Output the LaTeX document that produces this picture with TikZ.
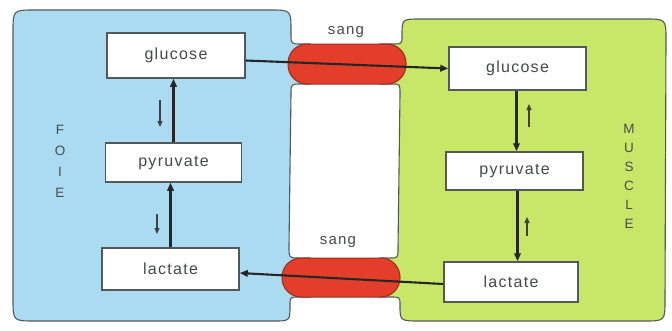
\documentclass[tikz,border=0pt]{standalone}
\usepackage{fontspec}
\setmainfont{Liberation Sans}
\newfontfamily\labelfont[LetterSpace=8]{Liberation Sans}
\usetikzlibrary{arrows.meta,calc}

\definecolor{liverblue}{RGB}{170,219,241}
\definecolor{musclegreen}{RGB}{200,230,104}
\definecolor{bloodred}{RGB}{226,62,42}
\definecolor{bloodedge}{RGB}{150,45,35}
\definecolor{outline}{RGB}{85,88,90}
\definecolor{inktext}{RGB}{70,72,74}

\tikzset{
  organ/.style={draw=outline, line width=1.1pt},
  metabox/.style={draw=outline, fill=white, line width=1.5pt, inner sep=0pt,
    font=\labelfont\fontsize{16}{19}\selectfont, text=inktext},
  vessel/.style={draw=bloodedge, fill=bloodred, line width=1pt, rounded corners=19pt, inner sep=0pt},
  flow/.style={draw=black!85, line width=2.1pt, -{Triangle[length=8pt,width=6.5pt]}},
  hint/.style={draw=black!75, line width=1.2pt, -{Triangle[length=6pt,width=5pt]}},
  organname/.style={font=\fontsize{13.5}{14}\selectfont, text=black!70},
  bloodlabel/.style={font=\labelfont\fontsize{15}{18}\selectfont, text=inktext}
}

\begin{document}
\begin{tikzpicture}[x=1pt,y=-1pt]
\useasboundingbox (0,0) rectangle (672,330);

% liver compartment
\path[organ, fill=liverblue]
  (13,32) .. controls (13,10) .. (35,10) -- (270,10)
  .. controls (291,10) .. (291,31) -- (291,34)
  .. controls (291,44) .. (301,44) -- (310,44) -- (310,84) -- (301,84)
  .. controls (291,84) .. (291,94) -- (289,246)
  .. controls (289,258) .. (299,258) -- (310,258) -- (310,297) -- (299,297)
  .. controls (290,297) .. (290,305) .. controls (290,321) .. (274,321)
  -- (35,321) .. controls (13,321) .. (13,299) -- cycle;

% muscle compartment
\path[organ, fill=musclegreen]
  (420,19) -- (645,19) .. controls (666,19) .. (666,40) -- (665,300)
  .. controls (665,321) .. (644,321) -- (420,321)
  .. controls (400,321) .. (400,305) .. controls (400,297) .. (390,297)
  -- (380,297) -- (380,258) -- (390,258)
  .. controls (398,258) .. (398,248) -- (400,94)
  .. controls (400,84) .. (392,84) -- (380,84) -- (380,44) -- (392,44)
  .. controls (402,44) .. (402,36) .. controls (402,19) .. (420,19) -- cycle;

% blood vessels
\node[vessel, minimum width=118pt, minimum height=40pt] (vtop) at (347,64) {};
\node[vessel, minimum width=118pt, minimum height=39pt] (vbot) at (341,277.5) {};
\node[bloodlabel] (stop) at (346,32) {sang};
\node[bloodlabel] (sbot) at (338,242) {sang};

% liver metabolites
\node[metabox, minimum width=138pt, minimum height=45pt] (lg) at (176,55.5) {glucose};
\node[metabox, minimum width=136pt, minimum height=39pt] (lp) at (173.5,162.5) {pyruvate};
\node[metabox, minimum width=137pt, minimum height=42pt] (ll) at (170.5,269) {lactate};

% muscle metabolites
\node[metabox, minimum width=137pt, minimum height=43pt] (rg) at (517.5,68.5) {glucose};
\node[metabox, minimum width=137pt, minimum height=38pt] (rp) at (514.5,171) {pyruvate};
\node[metabox, minimum width=134pt, minimum height=40pt] (rl) at (511,282) {lactate};

% organ names, one letter per line
\node[organname, align=center] (foie) at (60,161)
  {F\\[7pt]O\\[7pt]I\\[7pt]E};
\node[organname, align=center] (muscle) at (629,176)
  {M\\[5pt]U\\[5pt]S\\[5pt]C\\[5pt]L\\[5pt]E};

% transport through the blood
\draw[flow] ([yshift=-5pt]lg.east) -- (rg.west);
\draw[flow] ([yshift=-2pt]rl.west) -- ([yshift=-4pt]ll.east);

% gluconeogenesis in the liver
\draw[flow] (lp.north) -- (lp.north |- lg.south);
\draw[flow] (ll.north) -- (ll.north |- lp.south);

% glycolysis in the muscle
\draw[flow] ([xshift=-1pt]rg.south) -- ([xshift=-1pt]rg.south |- rp.north);
\draw[flow] ([xshift=3pt]rp.south) -- ([xshift=3pt]rp.south |- rl.north);

% small direction marks
\coordinate (h1a) at (160,100); \coordinate (h1b) at (160,127);
\coordinate (h2a) at (157,214); \coordinate (h2b) at (157,234);
\coordinate (h3a) at (529,127); \coordinate (h3b) at (529,104);
\coordinate (h4a) at (527,236); \coordinate (h4b) at (527,217);
\draw[hint] (h1a) -- (h1b);
\draw[hint] (h2a) -- (h2b);
\draw[hint] (h3a) -- (h3b);
\draw[hint] (h4a) -- (h4b);
\end{tikzpicture}
\end{document}
